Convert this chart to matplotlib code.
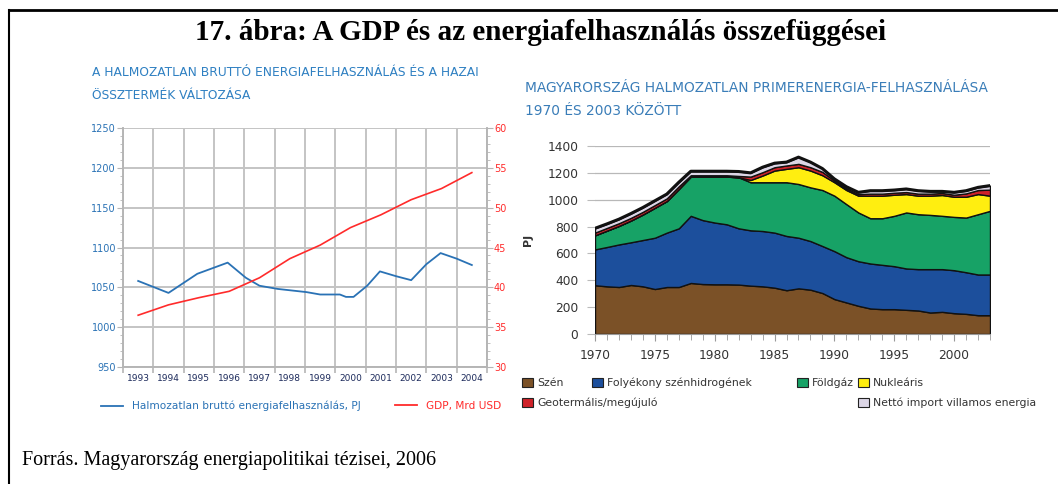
import matplotlib.pyplot as plt
from matplotlib.lines import Line2D
from matplotlib.patches import Patch
from matplotlib.ticker import MultipleLocator, FixedLocator

# bal oldali grafikon adatai
evek_bal = [1993, 1994, 1995, 1996, 1997, 1998, 1999, 2000, 2001, 2002, 2003, 2004]
energia_x = [1993.0, 1994.0, 1994.95, 1995.95, 1996.55, 1997.0, 1997.6, 1998.55, 1999.0,
             1999.65, 1999.85, 2000.1, 2000.55, 2000.97, 2001.5, 2002.0, 2002.5, 2002.97,
             2003.5, 2004.0]
energia_pj = [1058, 1043, 1067, 1081, 1062, 1052, 1048, 1044, 1041, 1041, 1038, 1038,
              1052, 1070, 1064, 1059, 1079, 1093, 1086, 1078]
gdp = [36.5, 37.8, 38.7, 39.5, 41.2, 43.6, 45.3, 47.5, 49.1, 51.0, 52.4, 54.4]

# jobb oldali grafikon adatai (PJ)
evek = list(range(1970, 2004))
szen = [363, 355, 350, 365, 355, 335, 350, 350, 380, 372, 370, 370, 368, 360, 355, 345, 326,
        340, 330, 305, 260, 235, 210, 190, 185, 185, 180, 175, 160, 165, 155, 150, 140, 140]
folyekony = [267, 293, 317, 318, 345, 382, 405, 437, 500, 476, 460, 447, 419, 412, 412, 410,
             404, 377, 362, 350, 357, 337, 332, 335, 330, 320, 308, 308, 323, 318, 320, 310,
             303, 303]
foldgaz = [105, 122, 138, 162, 190, 223, 235, 293, 292, 324, 342, 355, 380, 358, 363, 375, 400,
           400, 400, 417, 413, 395, 363, 337, 347, 375, 417, 409, 404, 397, 397, 407, 449, 474]
nuklearis = [0, 0, 0, 0, 0, 0, 0, 0, 0, 0, 0, 0, 0, 17, 50, 87, 100, 125, 125, 110, 100, 105,
             125, 168, 168, 157, 137, 138, 143, 155, 150, 155, 150, 113]
megujulo = [20, 20, 20, 20, 20, 20, 20, 20, 10, 10, 10, 10, 10, 25, 25, 25, 25, 25, 25, 25,
            12, 12, 12, 15, 15, 15, 15, 15, 15, 15, 15, 25, 30, 45]
import_vill = [32, 30, 30, 32, 32, 32, 32, 30, 30, 30, 30, 30, 33, 28, 37, 30, 25, 50, 38, 25,
               13, 13, 13, 22, 22, 20, 23, 22, 17, 12, 18, 20, 20, 30]

cimkek = ["Szén", "Folyékony szénhidrogének", "Földgáz", "Nukleáris",
          "Geotermális/megújuló", "Nettó import villamos energia"]
szinek = ["#7b5127", "#1c4f9c", "#17a266", "#ffee10", "#cf2229", "#dcd6e6"]

kek = "#2a72b5"
piros = "#ff2b2b"

fig = plt.figure(figsize=(10.58, 4.84), dpi=100)

# keret és címek
fig.add_artist(Line2D([9 / 1058, 1.0], [1 - 10 / 484, 1 - 10 / 484], color="black", lw=2))
fig.add_artist(Line2D([9 / 1058, 9 / 1058], [0, 1 - 10 / 484], color="black", lw=1.5))
fig.text(0.511, 1 - 33 / 484, "17. ábra: A GDP és az energiafelhasználás összefüggései",
         ha="center", va="center", fontsize=21, fontweight="bold", family="Liberation Serif")
fig.text(22 / 1058, 1 - 460 / 484, "Forrás. Magyarország energiapolitikai tézisei, 2006",
         ha="left", va="center", fontsize=14.5, family="Liberation Serif")

fig.text(92 / 1058, 1 - 72 / 484, "A HALMOZATLAN BRUTTÓ ENERGIAFELHASZNÁLÁS ÉS A HAZAI",
         ha="left", va="center", fontsize=8.8, color="#2f80c2")
fig.text(92 / 1058, 1 - 95 / 484, "ÖSSZTERMÉK VÁLTOZÁSA",
         ha="left", va="center", fontsize=8.8, color="#2f80c2")
fig.text(525 / 1058, 1 - 88 / 484, "MAGYARORSZÁG HALMOZATLAN PRIMERENERGIA-FELHASZNÁLÁSA",
         ha="left", va="center", fontsize=9.9, color="#3a7db8")
fig.text(525 / 1058, 1 - 111 / 484, "1970 ÉS 2003 KÖZÖTT",
         ha="left", va="center", fontsize=9.9, color="#3a7db8")

# bal grafikon
ax1 = fig.add_axes([123 / 1058, 1 - 367 / 484, 364 / 1058, 239 / 484])
ax1.plot([x - 1993 + 0.5 for x in energia_x], energia_pj, color=kek, lw=1.3, zorder=3)
ax1.set_xlim(0, len(evek_bal))
ax1.set_ylim(950, 1250)
ax1.yaxis.set_major_locator(MultipleLocator(50))
ax1.yaxis.set_minor_locator(MultipleLocator(10))
ax1.xaxis.set_major_locator(FixedLocator([i for i in range(len(evek_bal) + 1)]))
ax1.xaxis.set_minor_locator(FixedLocator([i + 0.5 for i in range(len(evek_bal))]))
ax1.set_xticklabels([])
ax1.set_xticklabels([str(e) for e in evek_bal], minor=True)
ax1.tick_params(axis="x", which="major", length=4, color="#b5b5b5", width=1.2)
ax1.tick_params(axis="x", which="minor", length=0, pad=5, labelsize=6.5, labelcolor="#1d2b5c")
ax1.tick_params(axis="y", which="both", color="#b5b5b5", labelcolor=kek, labelsize=7, pad=1)
ax1.tick_params(axis="y", which="major", length=4)
ax1.tick_params(axis="y", which="minor", length=2.5)
ax1.grid(True, which="major", color="#c4c4c4", lw=1.4)
for s in ax1.spines.values():
    s.set_color("#b5b5b5")
    s.set_linewidth(1.2)
ax1.spines["top"].set_visible(False)

ax2 = ax1.twinx()
ax2.plot([e - 1993 + 0.5 for e in evek_bal], gdp, color=piros, lw=1.2, zorder=3)
ax2.set_ylim(30, 60)
ax2.yaxis.set_major_locator(MultipleLocator(5))
ax2.yaxis.set_minor_locator(MultipleLocator(1))
ax2.tick_params(axis="y", which="both", color="#b5b5b5", labelcolor=piros, labelsize=7, pad=1)
ax2.tick_params(axis="y", which="major", length=4)
ax2.tick_params(axis="y", which="minor", length=2.5)
for s in ax2.spines.values():
    s.set_color("#b5b5b5")
    s.set_linewidth(1.2)
ax2.spines["top"].set_visible(False)

for cimke, szin, x in [("Halmozatlan bruttó energiafelhasználás, PJ", kek, 101),
                       ("GDP, Mrd USD", piros, 395)]:
    lg = fig.legend(handles=[Line2D([], [], color=szin, lw=1.3, label=cimke)],
                    loc="center left", bbox_to_anchor=(x / 1058, 1 - 406 / 484),
                    frameon=False, borderpad=0, borderaxespad=0, handlelength=2.1,
                    handletextpad=0.8, prop={"size": 7.6})
    for t in lg.get_texts():
        t.set_color(szin)

# jobb grafikon
ax3 = fig.add_axes([595 / 1058, 1 - 334 / 484, 395 / 1058, 188 / 484])
retegek = [szen, folyekony, foldgaz, nuklearis, megujulo, import_vill]
ax3.stackplot(evek, *retegek, colors=szinek, edgecolor="#111111", lw=1.0, zorder=2)
osszes = [sum(r[i] for r in retegek) for i in range(len(evek))]
ax3.plot(evek, osszes, color="#111111", lw=2.2, zorder=3)
ax3.set_xlim(1970, 2003)
ax3.set_ylim(0, 1400)
ax3.yaxis.set_major_locator(MultipleLocator(200))
ax3.xaxis.set_major_locator(MultipleLocator(5))
ax3.xaxis.set_minor_locator(MultipleLocator(1))
ax3.grid(True, axis="y", color="#b8b8b8", lw=0.9, zorder=0)
ax3.set_axisbelow(True)
for s in ["left", "top", "right"]:
    ax3.spines[s].set_visible(False)
ax3.spines["bottom"].set_color("#999999")
ax3.tick_params(axis="x", which="both", color="#999999", labelsize=8.8, labelcolor="#333333",
                pad=6)
ax3.tick_params(axis="x", which="major", length=5)
ax3.tick_params(axis="x", which="minor", length=4)
ax3.tick_params(axis="y", length=6, color="#bbbbbb", labelsize=8.8, labelcolor="#333333", pad=6)
ax3.set_ylabel("PJ", fontsize=8, fontweight="bold", color="#333333", labelpad=10)

helyek = [(522, 383), (592, 383), (797, 383), (858, 383), (522, 403), (858, 403)]
for cimke, szin, (x, y) in zip(cimkek, szinek, helyek):
    fig.legend(handles=[Patch(facecolor=szin, edgecolor="#222222", lw=0.8, label=cimke)],
               loc="center left", bbox_to_anchor=(x / 1058, 1 - y / 484), frameon=False,
               borderpad=0, borderaxespad=0, handlelength=1.0, handleheight=0.9,
               handletextpad=0.4, prop={"size": 7.8}, labelcolor="#333333")

fig.savefig("out.png", dpi=100)
